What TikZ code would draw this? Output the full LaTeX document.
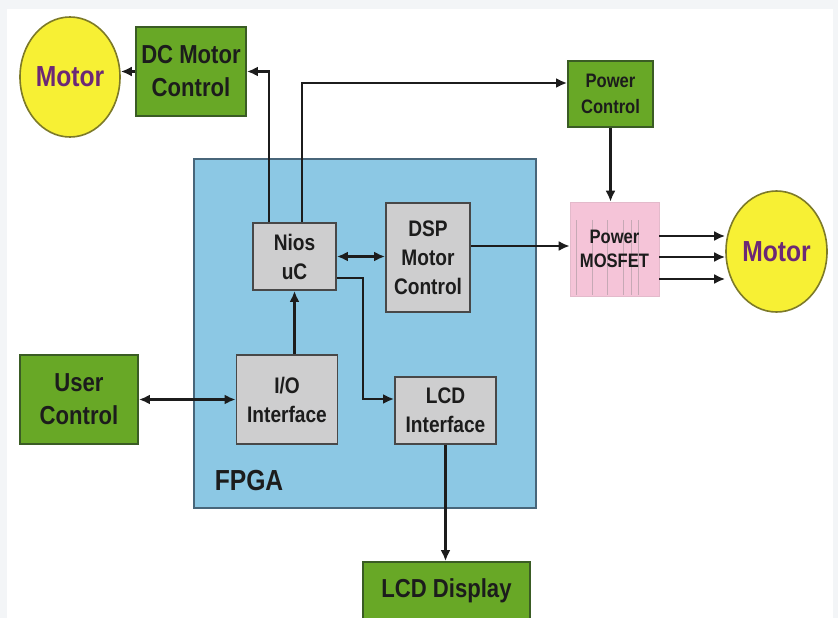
\documentclass[tikz,border=0pt]{standalone}
\usepackage{fontspec}
\setmainfont{Liberation Sans}[FakeStretch=0.85]
\usetikzlibrary{arrows.meta,shapes.geometric,calc}
\definecolor{gfill}{RGB}{104,168,38}
\definecolor{gline}{RGB}{58,92,36}
\definecolor{bfill}{RGB}{206,206,207}
\definecolor{bline}{RGB}{72,72,72}
\definecolor{fpgafill}{RGB}{140,200,228}
\definecolor{fpgaline}{RGB}{72,102,122}
\definecolor{pinkfill}{RGB}{245,196,216}
\definecolor{yfill}{RGB}{247,240,52}
\definecolor{yline}{RGB}{125,122,40}
\definecolor{purp}{RGB}{108,40,118}
\definecolor{ink}{RGB}{28,28,28}
\definecolor{pagebg}{RGB}{243,245,247}
\tikzset{
  every node/.style={inner sep=0pt, align=center, text=ink},
  greenbox/.style={draw=gline, line width=1.8pt, fill=gfill, font=\bfseries\fontsize{26}{33}\selectfont},
  greensmall/.style={draw=gline, line width=1.8pt, fill=gfill, font=\bfseries\fontsize{19.5}{26}\selectfont},
  graybox/.style={draw=bline, line width=1.8pt, fill=bfill, font=\bfseries\fontsize{22.5}{29}\selectfont},
  motorbub/.style={ellipse, draw=yline, line width=1.6pt, fill=yfill, text=purp, font=\bfseries\fontsize{29}{34}\selectfont},
  arr/.style={draw=ink, line width=2.5pt, -{Latex[length=11pt,width=10pt]}},
  darr/.style={draw=ink, line width=3pt, {Latex[length=11pt,width=10pt]}-{Latex[length=11pt,width=10pt]}},
}
\begin{document}
\begin{tikzpicture}[x=1pt,y=-1pt]
\useasboundingbox (0,0) rectangle (838,618);
\clip (0,0) rectangle (838,618);
\fill[pagebg] (0,0) rectangle (838,618);
\fill[white] (7,9) rectangle (833,618);

% FPGA region
\node[draw=fpgaline, line width=1.8pt, fill=fpgafill, minimum width=342pt, minimum height=349pt] (fpga) at (365,333.5) {};
\node[font=\bfseries\fontsize{29}{34}\selectfont, text=ink] (fpgalabel) at (249,481) {FPGA};

% outer blocks
\node[motorbub, minimum width=100pt, minimum height=120pt] (motorL) at (70,77) {Motor};
\node[greenbox, minimum width=110pt, minimum height=89pt] (dc) at (191,71.5) {DC Motor\\Control};
\node[greensmall, minimum width=85pt, minimum height=66pt] (pc) at (610.5,94) {Power\\Control};
\node[draw=pinkfill!85!gray, line width=0.6pt, fill=pinkfill, minimum width=89pt, minimum height=94pt] (mos) at (614.5,249) {};
\foreach \xx in {576,592,607,623,631,638}
  \draw[draw=pinkfill!60!gray, line width=0.5pt] (\xx,220) -- (\xx,295);
\node[font=\bfseries\fontsize{19.5}{24}\selectfont] (mostext) at (mos.center) {Power\\MOSFET};
\node[motorbub, minimum width=101pt, minimum height=121pt] (motorR) at (776.5,251.5) {Motor};
\node[greenbox, minimum width=118pt, minimum height=89pt] (user) at (79,399.5) {User\\Control};
\node[greenbox, minimum width=167pt, minimum height=76pt] (lcdd) at (446.5,600) {};
\node[font=\bfseries\fontsize{26}{33}\selectfont] (lcddtext) at (446.5,591) {LCD Display};

% FPGA internal blocks
\node[graybox, minimum width=83pt, minimum height=67pt] (nios) at (294.5,256.5) {Nios\\uC};
\node[graybox, minimum width=84pt, minimum height=109pt] (dsp) at (428,257.5) {DSP\\Motor\\Control};
\node[graybox, minimum width=101pt, minimum height=89pt] (io) at (287,399.5) {I/O\\Interface};
\node[graybox, minimum width=101pt, minimum height=67pt] (lcdi) at (445.5,410.5) {LCD\\Interface};

% connectors
\draw[arr] (dc.west) -- (dc.west -| motorL.east);
\draw[arr] ([xshift=-25.5pt]nios.north) |- (dc.east);
\draw[arr] ([xshift=7.5pt]nios.north) |- ([yshift=11pt]pc.west);
\draw[arr] (pc.south) -- (pc.south |- mos.north);
\draw[darr] (nios.east) -- (nios.east -| dsp.west);
\draw[arr] ([yshift=11.5pt]dsp.east) -- ([yshift=11.5pt]dsp.east -| mos.west);
\draw[arr] ([yshift=13pt]mos.east) -- ([yshift=13pt]mos.east -| motorR.west);
\draw[arr] ([yshift=-8pt]mos.east) -- ([yshift=-8pt]mos.east -| motorR.west);
\draw[arr] ([yshift=-30pt]mos.east) -- ([yshift=-30pt]mos.east -| motorR.west);
\draw[arr] (io.north -| nios.south) -- (nios.south);
\draw[darr] (user.east) -- (io.west);
\draw[arr] ([yshift=-21.5pt]nios.east) -- ++(26,0) |- ([yshift=11.5pt]lcdi.west);
\draw[arr] (lcdi.south) -- (lcdi.south |- lcdd.north);
\end{tikzpicture}
\end{document}
